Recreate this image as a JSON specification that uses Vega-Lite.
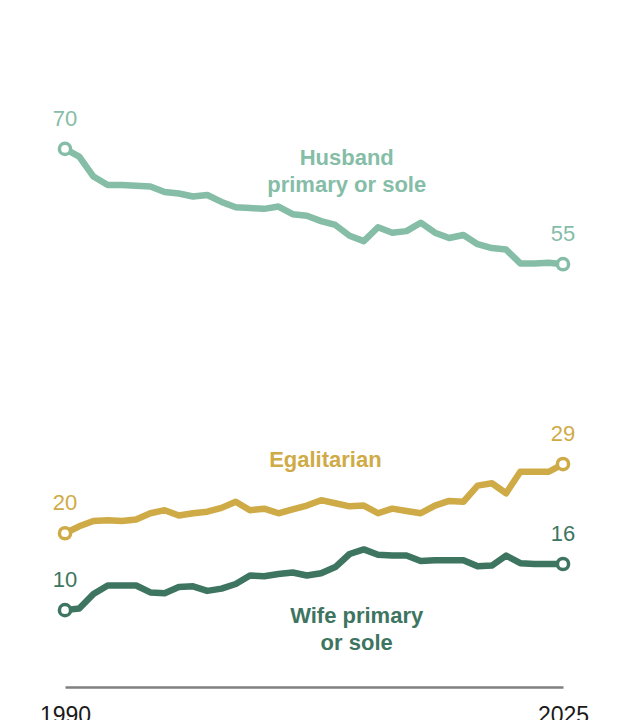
{
  "$schema": "https://vega.github.io/schema/vega-lite/v6.json",
  "autosize": {"type": "none"},
  "width": 498,
  "height": 615,
  "padding": {"top": 72, "left": 65, "right": 57, "bottom": 33},
  "background": "white",
  "config": {
    "view": {"stroke": null},
    "font": "Liberation Sans"
  },
  "datasets": {
    "trend": [
      {"year": 1990, "series": "Husband", "value": 70},
      {"year": 1991, "series": "Husband", "value": 69.0},
      {"year": 1992, "series": "Husband", "value": 66.4},
      {"year": 1993, "series": "Husband", "value": 65.3},
      {"year": 1994, "series": "Husband", "value": 65.3},
      {"year": 1995, "series": "Husband", "value": 65.2},
      {"year": 1996, "series": "Husband", "value": 65.1},
      {"year": 1997, "series": "Husband", "value": 64.4},
      {"year": 1998, "series": "Husband", "value": 64.2},
      {"year": 1999, "series": "Husband", "value": 63.8},
      {"year": 2000, "series": "Husband", "value": 64.0},
      {"year": 2001, "series": "Husband", "value": 63.1},
      {"year": 2002, "series": "Husband", "value": 62.4},
      {"year": 2003, "series": "Husband", "value": 62.3},
      {"year": 2004, "series": "Husband", "value": 62.2},
      {"year": 2005, "series": "Husband", "value": 62.5},
      {"year": 2006, "series": "Husband", "value": 61.5},
      {"year": 2007, "series": "Husband", "value": 61.3},
      {"year": 2008, "series": "Husband", "value": 60.6},
      {"year": 2009, "series": "Husband", "value": 60.1},
      {"year": 2010, "series": "Husband", "value": 58.7},
      {"year": 2011, "series": "Husband", "value": 58.0},
      {"year": 2012, "series": "Husband", "value": 59.8},
      {"year": 2013, "series": "Husband", "value": 59.1},
      {"year": 2014, "series": "Husband", "value": 59.3},
      {"year": 2015, "series": "Husband", "value": 60.4},
      {"year": 2016, "series": "Husband", "value": 59.1},
      {"year": 2017, "series": "Husband", "value": 58.4},
      {"year": 2018, "series": "Husband", "value": 58.8},
      {"year": 2019, "series": "Husband", "value": 57.6},
      {"year": 2020, "series": "Husband", "value": 57.1},
      {"year": 2021, "series": "Husband", "value": 56.9},
      {"year": 2022, "series": "Husband", "value": 55.1},
      {"year": 2023, "series": "Husband", "value": 55.1},
      {"year": 2024, "series": "Husband", "value": 55.2},
      {"year": 2025, "series": "Husband", "value": 55},

      {"year": 1990, "series": "Egalitarian", "value": 20},
      {"year": 1991, "series": "Egalitarian", "value": 20.9},
      {"year": 1992, "series": "Egalitarian", "value": 21.6},
      {"year": 1993, "series": "Egalitarian", "value": 21.7},
      {"year": 1994, "series": "Egalitarian", "value": 21.6},
      {"year": 1995, "series": "Egalitarian", "value": 21.8},
      {"year": 1996, "series": "Egalitarian", "value": 22.6},
      {"year": 1997, "series": "Egalitarian", "value": 23.0},
      {"year": 1998, "series": "Egalitarian", "value": 22.3},
      {"year": 1999, "series": "Egalitarian", "value": 22.6},
      {"year": 2000, "series": "Egalitarian", "value": 22.8},
      {"year": 2001, "series": "Egalitarian", "value": 23.3},
      {"year": 2002, "series": "Egalitarian", "value": 24.1},
      {"year": 2003, "series": "Egalitarian", "value": 23.0},
      {"year": 2004, "series": "Egalitarian", "value": 23.2},
      {"year": 2005, "series": "Egalitarian", "value": 22.6},
      {"year": 2006, "series": "Egalitarian", "value": 23.1},
      {"year": 2007, "series": "Egalitarian", "value": 23.6},
      {"year": 2008, "series": "Egalitarian", "value": 24.3},
      {"year": 2009, "series": "Egalitarian", "value": 23.9},
      {"year": 2010, "series": "Egalitarian", "value": 23.5},
      {"year": 2011, "series": "Egalitarian", "value": 23.6},
      {"year": 2012, "series": "Egalitarian", "value": 22.6},
      {"year": 2013, "series": "Egalitarian", "value": 23.2},
      {"year": 2014, "series": "Egalitarian", "value": 22.9},
      {"year": 2015, "series": "Egalitarian", "value": 22.6},
      {"year": 2016, "series": "Egalitarian", "value": 23.6},
      {"year": 2017, "series": "Egalitarian", "value": 24.2},
      {"year": 2018, "series": "Egalitarian", "value": 24.1},
      {"year": 2019, "series": "Egalitarian", "value": 26.2},
      {"year": 2020, "series": "Egalitarian", "value": 26.5},
      {"year": 2021, "series": "Egalitarian", "value": 25.2},
      {"year": 2022, "series": "Egalitarian", "value": 28.0},
      {"year": 2023, "series": "Egalitarian", "value": 28.0},
      {"year": 2024, "series": "Egalitarian", "value": 28.0},
      {"year": 2025, "series": "Egalitarian", "value": 29},

      {"year": 1990, "series": "Wife", "value": 10},
      {"year": 1991, "series": "Wife", "value": 10.2},
      {"year": 1992, "series": "Wife", "value": 12.1},
      {"year": 1993, "series": "Wife", "value": 13.2},
      {"year": 1994, "series": "Wife", "value": 13.2},
      {"year": 1995, "series": "Wife", "value": 13.2},
      {"year": 1996, "series": "Wife", "value": 12.3},
      {"year": 1997, "series": "Wife", "value": 12.2},
      {"year": 1998, "series": "Wife", "value": 13.0},
      {"year": 1999, "series": "Wife", "value": 13.1},
      {"year": 2000, "series": "Wife", "value": 12.5},
      {"year": 2001, "series": "Wife", "value": 12.8},
      {"year": 2002, "series": "Wife", "value": 13.4},
      {"year": 2003, "series": "Wife", "value": 14.5},
      {"year": 2004, "series": "Wife", "value": 14.4},
      {"year": 2005, "series": "Wife", "value": 14.7},
      {"year": 2006, "series": "Wife", "value": 14.9},
      {"year": 2007, "series": "Wife", "value": 14.5},
      {"year": 2008, "series": "Wife", "value": 14.8},
      {"year": 2009, "series": "Wife", "value": 15.6},
      {"year": 2010, "series": "Wife", "value": 17.3},
      {"year": 2011, "series": "Wife", "value": 17.9},
      {"year": 2012, "series": "Wife", "value": 17.2},
      {"year": 2013, "series": "Wife", "value": 17.1},
      {"year": 2014, "series": "Wife", "value": 17.1},
      {"year": 2015, "series": "Wife", "value": 16.4},
      {"year": 2016, "series": "Wife", "value": 16.5},
      {"year": 2017, "series": "Wife", "value": 16.5},
      {"year": 2018, "series": "Wife", "value": 16.5},
      {"year": 2019, "series": "Wife", "value": 15.7},
      {"year": 2020, "series": "Wife", "value": 15.8},
      {"year": 2021, "series": "Wife", "value": 17.1},
      {"year": 2022, "series": "Wife", "value": 16.1},
      {"year": 2023, "series": "Wife", "value": 16.0},
      {"year": 2024, "series": "Wife", "value": 16.0},
      {"year": 2025, "series": "Wife", "value": 16}
    ],
    "names": [
      {"series": "Husband", "year": 2009.8, "value": 67.9, "label": "Husband\nprimary or sole"},
      {"series": "Egalitarian", "year": 2008.3, "value": 28.6, "label": "Egalitarian"},
      {"series": "Wife", "year": 2010.5, "value": 8.3, "label": "Wife primary\nor sole"}
    ]
  },
  "layer": [
    {
      "data": {"name": "trend"},
      "mark": {"type": "line", "strokeWidth": 6.5, "strokeJoin": "round", "strokeCap": "round"},
      "encoding": {
        "x": {
          "field": "year", "type": "quantitative",
          "scale": {"domain": [1990, 2025], "nice": false, "zero": false},
          "axis": {
            "title": null, "values": [1990, 2025], "format": "d",
            "ticks": false, "grid": false, "labelFlush": false,
            "domainColor": "#808080", "domainWidth": 2.5,
            "labelFontSize": 23, "labelColor": "#1a1a1a", "labelPadding": 17,
            "labelFont": "Liberation Sans"
          }
        },
        "y": {
          "field": "value", "type": "quantitative",
          "scale": {"domain": [0, 80], "nice": false},
          "axis": null
        },
        "color": {
          "field": "series", "type": "nominal",
          "scale": {"domain": ["Husband", "Egalitarian", "Wife"], "range": ["#85BDA7", "#CFAB47", "#3E7561"]},
          "legend": null
        },
        "detail": {"field": "series"}
      }
    },
    {
      "data": {"name": "trend"},
      "transform": [{"filter": "datum.year === 1990 || datum.year === 2025"}],
      "mark": {"type": "point", "shape": "circle", "filled": false, "fill": "white", "fillOpacity": 1, "size": 125, "strokeWidth": 3.5, "opacity": 1},
      "encoding": {
        "x": {"field": "year", "type": "quantitative"},
        "y": {"field": "value", "type": "quantitative"},
        "color": {"field": "series", "type": "nominal", "legend": null}
      }
    },
    {
      "data": {"name": "trend"},
      "transform": [{"filter": "datum.year === 1990 || datum.year === 2025"}],
      "mark": {"type": "text", "dy": -23, "baseline": "alphabetic", "align": "center", "fontSize": 22, "font": "Liberation Sans"},
      "encoding": {
        "x": {"field": "year", "type": "quantitative"},
        "y": {"field": "value", "type": "quantitative"},
        "text": {"field": "value", "type": "quantitative", "format": ".0f"},
        "color": {"field": "series", "type": "nominal", "legend": null}
      }
    },
    {
      "data": {"name": "names"},
      "mark": {"type": "text", "baseline": "alphabetic", "align": "center", "fontSize": 22, "fontWeight": "bold", "font": "Liberation Sans", "lineBreak": "\n", "lineHeight": 27},
      "encoding": {
        "x": {"field": "year", "type": "quantitative"},
        "y": {"field": "value", "type": "quantitative"},
        "text": {"field": "label", "type": "nominal"},
        "color": {"field": "series", "type": "nominal", "legend": null}
      }
    }
  ]
}
